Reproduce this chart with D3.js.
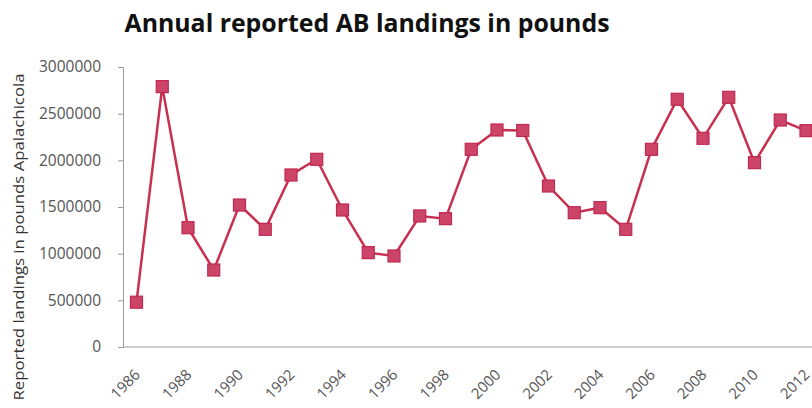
<!DOCTYPE html>
<html><head><meta charset="utf-8">
<script src="https://cdn.jsdelivr.net/npm/d3@7"></script>
<style>
body{margin:0;background:#fff;}
svg{display:block;}
</style></head>
<body>
<svg id="chart" width="812" height="408"></svg>
<script>
const years = [1986,1987,1988,1989,1990,1991,1992,1993,1994,1995,1996,1997,1998,1999,2000,2001,2002,2003,2004,2005,2006,2007,2008,2009,2010,2011,2012];
const landings = [480000,2790000,1278000,825000,1521000,1261000,1843000,2011000,1468000,1011000,975000,1404000,1375000,2118000,2325000,2320000,1725000,1439000,1493000,1261000,2118000,2654000,2236000,2675000,1975000,2432000,2318000];
const yTicks = [0,500000,1000000,1500000,2000000,2500000,3000000];
const xTickYears = [1986,1988,1990,1992,1994,1996,1998,2000,2002,2004,2006,2008,2010,2012];
const titleText = "Annual reported AB landings in pounds";
const yTitle = "Reported landings in pounds Apalachicola";

(function(){
const svg = d3.select("#chart");
const mLeft = 123, mTop = 67, mBottom = 347;
const x = d3.scalePoint().domain(years).range([136.5, 806]);
const y = d3.scaleLinear().domain([0,3000000]).range([mBottom, mTop]);
const cx = d => x(d);

// title
svg.append("text").attr("x", 367).attr("y", 32)
  .attr("text-anchor","middle")
  .attr("font-family","'Open Sans', sans-serif").attr("font-weight","bold")
  .attr("font-size",25).attr("fill","#111")
  .attr("textLength",485).attr("lengthAdjust","spacingAndGlyphs")
  .text(titleText);

// y axis
const yAxis = svg.append("g").attr("transform",`translate(${mLeft},0)`)
  .call(d3.axisLeft(y).tickValues(yTicks).tickSize(5).tickPadding(17).tickFormat(d3.format("d")));
yAxis.select(".domain").attr("stroke","#9a9a9a");
yAxis.selectAll(".tick line").attr("stroke","#9a9a9a");
yAxis.selectAll(".tick text").attr("font-family","'Open Sans', sans-serif").attr("font-size",15.5).attr("fill","#555");

// x axis
svg.append("line").attr("x1", mLeft).attr("x2", 812).attr("y1", mBottom).attr("y2", mBottom).attr("stroke","#9a9a9a");

svg.append("g").selectAll("text").data(xTickYears).join("text")
  .attr("transform", d => `translate(${cx(d)-3},${mBottom+21}) rotate(-45)`)
  .attr("text-anchor","end").attr("dy","0.72em")
  .attr("font-family","'Open Sans', sans-serif").attr("font-size",15).attr("fill","#555")
  .text(d => d);

// y title
svg.append("text").attr("transform","translate(24,237) rotate(-90)")
  .attr("text-anchor","middle")
  .attr("font-family","'Open Sans', sans-serif").attr("font-size",15).attr("fill","#333")
  .attr("textLength",327).attr("lengthAdjust","spacingAndGlyphs")
  .text(yTitle);

// line
const line = d3.line().x((d,i)=>cx(years[i])).y(d=>y(d));
svg.append("path").datum(landings).attr("d", line)
  .attr("fill","none").attr("stroke","#c8304f").attr("stroke-width",2.5);

// markers
const ms = 12;
svg.append("g").selectAll("rect").data(landings).join("rect")
  .attr("x",(d,i)=>cx(years[i]) - ms/2).attr("y", d => y(d) - ms/2)
  .attr("width", ms).attr("height", ms)
  .attr("fill","#cc4468").attr("stroke","#c02850").attr("stroke-width",1.2);
})();
</script>
</body></html>
